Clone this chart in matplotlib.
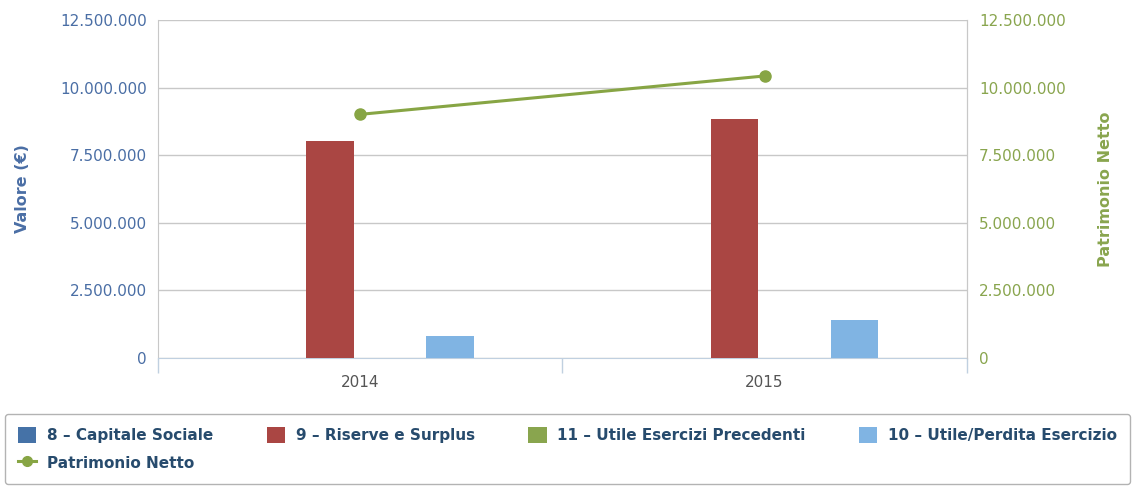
import numpy as np
import matplotlib
matplotlib.use("Agg")
import matplotlib.pyplot as plt
from matplotlib.ticker import FuncFormatter, FixedLocator
from matplotlib.patches import Patch
from matplotlib.lines import Line2D

plt.rcParams['font.family'] = ['DejaVu Sans']

# ---- data ----
years = ["2014", "2015"]
capitale_sociale = [10000, 10000]
riserve_surplus = [8030000, 8840000]
utile_prec = [0, 0]
utile_perdita = [820000, 1390000]
patrimonio_netto = [9010000, 10430000]

series_names = ["8 – Capitale Sociale", "9 – Riserve e Surplus",
                "11 – Utile Esercizi Precedenti", "10 – Utile/Perdita Esercizio"]
line_name = "Patrimonio Netto"
yticks = [0, 2500000, 5000000, 7500000, 10000000, 12500000]

# ---- style ----
bar_colors = ["#4572A7", "#AA4643", "#89A54E", "#80B4E3"]
line_color = "#87A544"
left_lab_color = "#4A6EA5"
right_lab_color = "#89A54E"
grid_color = "#C8C8C8"
axis_color = "#C0D0E0"

W, H = 1132, 486
fig = plt.figure(figsize=(W / 100, H / 100), dpi=100)
x0, x1, ytop, ybot = 158, 966.7, 20, 358
ax = fig.add_axes([x0 / W, 1 - ybot / H, (x1 - x0) / W, (ybot - ytop) / H])

x = np.arange(len(years))
offsets = [-0.2227, -0.0742, 0.0742, 0.2227]
width = 0.1175
all_series = [capitale_sociale, riserve_surplus, utile_prec, utile_perdita]
for vals, off, col, name in zip(all_series, offsets, bar_colors, series_names):
    ax.bar(x + off, vals, width, color=col, zorder=3, label=name, linewidth=0)

ax.set_xlim(-0.5, len(years) - 0.5)
ax.set_ylim(0, 12500000)
ax.yaxis.set_major_locator(FixedLocator(yticks))
fmt = FuncFormatter(lambda v, p: f"{v:,.0f}".replace(",", "."))
ax.yaxis.set_major_formatter(fmt)
ax.grid(axis="y", color=grid_color, linewidth=1, zorder=0)
ax.set_axisbelow(True)

ax.set_xticks(x)
ax.set_xticklabels(years)
ax.set_xticks(np.arange(len(years) + 1) - 0.5, minor=True)
ax.tick_params(axis="x", which="major", length=0, pad=12, labelsize=11, labelcolor="#555555")
ax.tick_params(axis="x", which="minor", length=11, color=axis_color, width=1, direction="out")
ax.tick_params(axis="y", length=0, pad=8, labelsize=11, labelcolor=left_lab_color)

ax.spines["top"].set_visible(False)
ax.spines["bottom"].set_color(axis_color)
ax.spines["left"].set_color(grid_color)
ax.spines["right"].set_color(grid_color)

ax.set_ylabel("Valore (€)", color=left_lab_color, fontsize=11.5, fontweight="bold", labelpad=22)

ax2 = ax.twinx()
ax2.set_ylim(0, 12500000)
ax2.yaxis.set_major_locator(FixedLocator(yticks))
ax2.yaxis.set_major_formatter(fmt)
ax2.tick_params(axis="y", length=0, pad=9, labelsize=11, labelcolor=right_lab_color)
for s in ["top", "left", "bottom"]:
    ax2.spines[s].set_visible(False)
ax2.spines["right"].set_color(grid_color)
ax2.plot(x, patrimonio_netto, color=line_color, linewidth=2.2, marker="o",
         markersize=8, zorder=5, label=line_name)
ax2.set_ylabel(line_name, color=right_lab_color, fontsize=11.5, fontweight="bold",
               labelpad=23)

# ---- legend ----
h_bars = [Patch(facecolor=c, edgecolor="none") for c in bar_colors]
h_line = Line2D([], [], color=line_color, linewidth=2.2, marker="o", markersize=7)
handles = [h_bars[0], h_line, h_bars[1], h_bars[2], h_bars[3]]
labels = [series_names[0], line_name, series_names[1], series_names[2], series_names[3]]
leg = fig.legend(handles, labels, ncol=4, loc="center", mode="expand",
                 bbox_to_anchor=(5 / W, 1 - 485 / H, 1125 / W, 72 / H),
                 frameon=True, fancybox=True, edgecolor="#A0A0A0",
                 prop={"size": 11, "weight": "bold"}, labelcolor="#274B6D",
                 handlelength=1.2, handleheight=1.2, handletextpad=0.7,
                 borderpad=0.85, labelspacing=0.75, borderaxespad=0.0)
leg.get_frame().set_linewidth(1.0)

fig.savefig("out.png", dpi=100, facecolor="white")
